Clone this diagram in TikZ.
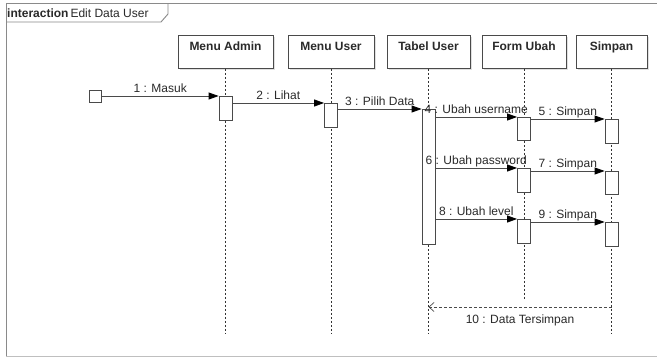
\documentclass[tikz,border=0pt]{standalone}
\usepackage{fontspec}
\setmainfont{Liberation Sans}
\usetikzlibrary{arrows.meta,shadows}
\definecolor{ln}{HTML}{4A4A4A}
\definecolor{frm}{HTML}{8A8A8A}
\definecolor{txt}{HTML}{2A2A2A}
\begin{document}
\begin{tikzpicture}[x=1pt,y=-1pt,
  font=\fontsize{12}{14}\selectfont, text=txt,
  head/.style={draw=ln, fill=white, line width=0.8pt, anchor=north,
    inner xsep=0pt, inner ysep=6pt, text height=9pt, text depth=12pt,
    font=\fontsize{12}{14}\selectfont\bfseries,
    drop shadow={shadow xshift=2pt, shadow yshift=-2pt, fill=black!12, opacity=1}},
  act/.style={draw=ln, fill=white, line width=0.8pt, anchor=north,
    minimum width=13pt, inner sep=0pt},
  life/.style={draw=black!80, line width=0.8pt, dash pattern=on 2pt off 2pt},
  msg/.style={draw=ln, line width=0.8pt,
    -{Triangle[length=10pt,width=7pt,fill=black,color=black]}},
  ret/.style={draw=ln, line width=0.8pt, dash pattern=on 3pt off 2pt,
    -{Straight Barb[length=5pt,width=9pt,line width=0.7pt]}},
  lbl/.style={midway, anchor=base, yshift=3pt, inner sep=0pt},
]
\useasboundingbox (0,0) rectangle (657,358);
\fill[white] (0,0) rectangle (657,358);

% interaction frame
\draw[frm, line width=1pt] (657,4) -- (6,4) -- (6,357);
\draw[black!25, line width=1pt] (6,357) -- (657,357);
\draw[frm, line width=0.9pt] (6,22) -- (161,22) -- (168,14) -- (168,4);
\node[anchor=base west, inner sep=0pt] (ttl) at (7,17.5)
  {\bfseries interaction\hspace{2pt}\mdseries Edit Data User};

% lifeline heads
\node[head, minimum width=95pt] (hA) at (225.5,35) {Menu Admin};
\node[head, minimum width=86pt] (hU) at (331,35)   {Menu User};
\node[head, minimum width=83pt] (hT) at (428.5,35) {Tabel User};
\node[head, minimum width=84pt] (hF) at (524,35)   {Form Ubah};
\node[head, minimum width=71pt] (hS) at (611.5,35) {Simpan};

% lifelines
\coordinate (lend) at (0,333);
\coordinate (fend) at (0,300);
\draw[life] (hA.south) -- (hA.south |- lend);
\draw[life] (hU.south) -- (hU.south |- lend);
\draw[life] (hT.south) -- (hT.south |- lend);
\draw[life] (hF.south) -- (hF.south |- fend);
\draw[life] (hS.south) -- (hS.south |- lend);

% activations
\node[act, minimum height=24pt]  (aA)  at (225.5,96) {};
\node[act, minimum height=24pt]  (aU)  at (331,103)  {};
\node[act, minimum height=135pt] (aT)  at (428.5,109) {};
\node[act, minimum height=23pt]  (aF1) at (524,117)  {};
\node[act, minimum height=24pt]  (aF2) at (524,168)  {};
\node[act, minimum height=24pt]  (aF3) at (524,219)  {};
\node[act, minimum height=24pt]  (aS1) at (611.5,119) {};
\node[act, minimum height=23pt]  (aS2) at (611.5,171) {};
\node[act, minimum height=24pt]  (aS3) at (611.5,222) {};

% starting point
\node[draw=ln, fill=white, line width=0.8pt, minimum size=12pt, inner sep=0pt]
  (st) at (95.5,96) {};

% messages
\draw[msg] (st.east) -- (aA.north west) node[lbl] {1 : Masuk};
\draw[msg] (aA.east |- aU.north) -- (aU.north west) node[lbl] {2 : Lihat};
\draw[msg] (aU.east |- aT.north) -- (aT.north west) node[lbl] {3 : Pilih Data};
\draw[msg] (aT.east |- aF1.north) -- (aF1.north west) node[lbl] {4 : Ubah username};
\draw[msg] (aF1.east |- aS1.north) -- (aS1.north west) node[lbl] {5 : Simpan};
\draw[msg] (aT.east |- aF2.north) -- (aF2.north west) node[lbl] {6 : Ubah password};
\draw[msg] (aF2.east |- aS2.north) -- (aS2.north west) node[lbl] {7 : Simpan};
\draw[msg] (aT.east |- aF3.north) -- (aF3.north west) node[lbl] {8 : Ubah level};
\draw[msg] (aF3.east |- aS3.north) -- (aS3.north west) node[lbl] {9 : Simpan};

% return message
\coordinate (r10) at (0,307);
\draw[ret] (hS.south |- r10) -- (hT.south |- r10)
  node[midway, anchor=north, yshift=-7pt, inner sep=0pt] {10 : Data Tersimpan};
\end{tikzpicture}
\end{document}
